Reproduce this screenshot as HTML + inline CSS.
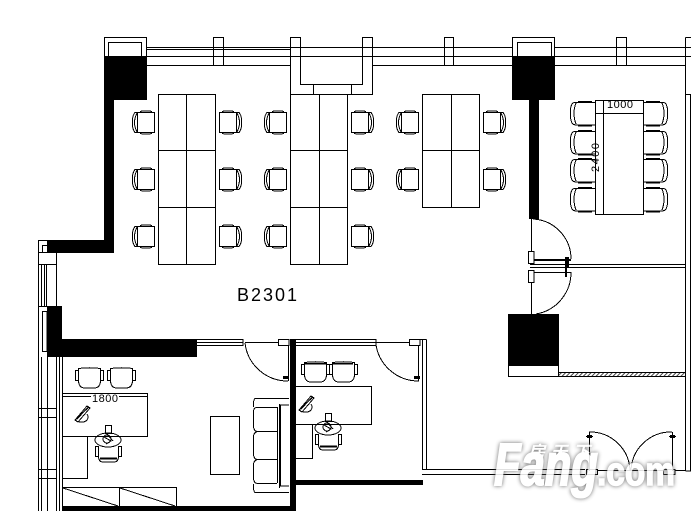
<!DOCTYPE html>
<html>
<head>
<meta charset="utf-8">
<style>
html,body{margin:0;padding:0;background:#fff;width:691px;height:511px;overflow:hidden}
svg{display:block;shape-rendering:crispEdges}
.l{fill:none;stroke:#000;stroke-width:1}
.b{fill:#000;stroke:none}
text{font-family:"Liberation Sans","Noto Sans CJK SC",sans-serif;fill:#000}
</style>
</head>
<body>
<svg width="691" height="511" viewBox="0 0 691 511" xmlns="http://www.w3.org/2000/svg">
<defs>
<g id="ch" class="l">
<rect x="5.500" y="2.500" width="17" height="20"/>
<path d="M8 1.500Q14 0 20 1.500M8 23.500Q14 25 20 23.500M5 2.500H3Q0 6 .5 12.500Q0 19 3 22.500H5M5 3Q2.500 8 2.500 12.500Q2.500 17 5 22"/>
</g>
<g id="cc" class="l">
<path d="M25 2.500H7Q3 2 2 4Q0 8 .5 13Q0 19 2 23Q3 25 7 25H25"/>
<path d="M6 3Q4 8 4 13Q4 19 6 24M8 1.500H22M8 26H22"/>
</g>
<g id="uc" class="l">
<rect x=".5" y="3.500" width="3" height="10"/>
<rect x="25.500" y="3.500" width="3" height="10"/>
<path d="M3.500 1.500Q14 0 25.500 1.500V13Q25.500 21 19 21H10Q3.500 21 3.500 13Z"/>
</g>
<g id="kb" class="l">
<path d="M1 15L13 1L16 3L4 17ZM3 13L14 3M2.500 14.500L14.500 2M5 17Q10 18 13 15Q15 12 13 9"/>
</g>
<g id="pe" class="l">
<rect x="105.500" y="425.500" width="6" height="8"/>
<ellipse cx="108" cy="440" rx="13" ry="7"/>
<circle cx="107" cy="439" r="4"/>
<path d="M106 433L113 441M104 437L111 441L106 444"/>
<rect x="95.500" y="446.500" width="3" height="10"/>
<rect x="118.500" y="446.500" width="3" height="10"/>
<path d="M98.500 447V456Q98.500 462 103 462H114Q118.500 462 118.500 456V447M100 458H117M100 459H117"/>
</g>
<pattern id="ha" width="3" height="3" patternUnits="userSpaceOnUse" patternTransform="rotate(45)">
<rect width="3" height="3" fill="#fff"/><rect width="1.200" height="3" fill="#444"/>
</pattern>
</defs>

<!-- solid walls -->
<path class="b" d="M104 56H147V100H114V253H47V240H104Z"/>
<path class="b" d="M512 56H555V100H539V219H529V100H512Z"/>
<path class="b" d="M47 306H62V339H197V357H47Z"/>
<rect class="b" x="290" y="339" width="6" height="172"/>
<rect class="b" x="62" y="506" width="234" height="5"/>
<rect class="b" x="296" y="480" width="127" height="5"/>
<rect class="b" x="508" y="314" width="51" height="51"/>

<g class="l">
<!-- top window -->
<path d="M104.500 56V37.500H146.500V56M108.500 56V42.500H141.500V56"/>
<path d="M512.500 56V37.500H554.500V56M517.500 56V42.500H551.500V56"/>
<path d="M147 47.500H512M147 49.500H290M147 56.500H512M147 65.500H290M372 65.500H512M555 47.500H691M555 56.500H691M555 65.500H685"/>
<path d="M213.500 65V37.500H223.500V65M444.500 65V37.500H453.500V65M616.500 65V37.500H626.500V65"/>
<path d="M290.500 94V37.500H300.500V84.500H362.500V37.500H372.500V94.500H290.500M313.500 85V94M351.500 85V94"/>
<!-- right wall -->
<path d="M685.500 37.500V471M685.500 37.500H691M690.500 94.500V471M685.500 94.500H691M685.500 471H691"/>

<!-- desks -->
<path d="M158.500 94.500H215.500V264.500H158.500ZM186.500 94V264M158 150.500H215M158 207.500H215"/>
<path d="M290.500 94.500H347.500V264.500H290.500ZM319.500 94V264M290 150.500H347M290 207.500H347"/>
<path d="M422.500 94.500H479.500V207.500H422.500ZM451.500 94V207M422 150.500H479"/>

<!-- conference table -->
<path d="M595.500 100.500H643.500V214.500H595.500ZM603.500 100V214M595 113.500H643"/>

<!-- left window -->
<path d="M38.500 511V240.500H47M38.500 264.500H56M42.500 252V245.500H48M38 252.500H47M41.500 264V306M44.500 264V306M46.500 264V306M56.500 253V306M38 306.500H47M42.500 311.500H47V351.500H42.500ZM41.500 357V511M47.500 357V511M56.500 357V511M59.500 357V511M62.500 357V506M38 408.500H56M38 417.500H56M38 469.500H56M38 478.500H56"/>

<!-- office 1 -->
<path d="M197 339.500H243V345.500H197M197 342.500H243M245 342.500H278M278.500 339.500H289V345.500H278.500ZM288.500 345V381"/>
<path d="M62.500 393.500H147.500V436.500H62.500ZM62 396.500H91M119 396.500H147M147.500 393V397M87.500 436V478.500H62"/>
<path d="M62 487.500H176.500V506M119.500 487V506M63 488L118 506M120 488L175 506"/>
<rect x="210.500" y="416.500" width="29" height="58"/>
<!-- sofa -->
<path d="M277.500 407V483M279.500 404V488M289 405H280.500V486H289M255 398.500H289M255 492.500H289M277 407.500H258M277 431.500H258M277 459.500H258M277 483.500H258"/>

<!-- office 2 -->
<path d="M296 339.500H376V345.500H296M296 342.500H376M376 342.500H409M409.500 339.500H420V345.500H409.500ZM418.500 345V381M422.500 339.500V470M426.500 339.500V469M418 339.500H426.500"/>
<path d="M296 386.500H371.500V424.500H296M312.500 424V458.500H296"/>
<path d="M422 469.500H585M422 474.500H585M597 470.500H663M675 470.500H685"/>

<!-- corridor partition -->
<path d="M531.500 219V251M528.500 251.500H534V263.500H528.500ZM530 264.500H685M530 267.500H685M528.500 270.500H534V282.500H528.500ZM534 272.500H571M531.500 282V314"/>
<rect x="508.500" y="365.500" width="50" height="11" fill="#fff"/>
<path d="M586.500 469.500H597.500V474.500H586.500ZM663.500 469.500H675V474.500H663.500ZM589.500 432V471M672.500 432V471"/>
<path d="M586 436.500H593M669 436.500H676"/>
</g>

<rect x="559" y="372" width="126" height="5" fill="url(#ha)"/>
<path class="l" d="M559 376.500H685M559 372.500H685"/>

<!-- door arcs -->
<g class="l">
<path d="M533 219A40 40 0 0 1 571 259"/>
<path d="M571 272A42 42 0 0 1 536 314"/>
<path d="M245 343A43 43 0 0 0 288 381"/>
<path d="M376 345A43 43 0 0 0 419 381"/>
<path d="M589 432A40 40 0 0 1 630 470"/>
<path d="M672 432A40 40 0 0 0 631 470"/>
</g>
<g class="b">
<rect x="534" y="259" width="37" height="2"/>
<rect x="565" y="257" width="4" height="11"/>
<rect x="565" y="268" width="2" height="9"/>
<rect x="283" y="376" width="6" height="3"/>
<rect x="414" y="376" width="6" height="3"/>
<rect x="587" y="435" width="5" height="3"/>
<rect x="670" y="435" width="5" height="3"/>
</g>

<!-- task chairs -->
<use href="#ch" x="132" y="110"/><use href="#ch" x="132" y="167"/><use href="#ch" x="132" y="224"/>
<use href="#ch" x="264" y="110"/><use href="#ch" x="264" y="167"/><use href="#ch" x="264" y="224"/>
<use href="#ch" x="396" y="110"/><use href="#ch" x="396" y="167"/>
<use href="#ch" transform="translate(242,110) scale(-1,1)"/><use href="#ch" transform="translate(242,167) scale(-1,1)"/><use href="#ch" transform="translate(242,224) scale(-1,1)"/>
<use href="#ch" transform="translate(374,110) scale(-1,1)"/><use href="#ch" transform="translate(374,167) scale(-1,1)"/><use href="#ch" transform="translate(374,224) scale(-1,1)"/>
<use href="#ch" transform="translate(506,110) scale(-1,1)"/><use href="#ch" transform="translate(506,167) scale(-1,1)"/>

<!-- conference chairs -->
<use href="#cc" x="570" y="100"/><use href="#cc" x="570" y="129"/><use href="#cc" x="570" y="157"/><use href="#cc" x="570" y="186"/>
<use href="#cc" transform="translate(668,100) scale(-1,1)"/><use href="#cc" transform="translate(668,129) scale(-1,1)"/><use href="#cc" transform="translate(668,157) scale(-1,1)"/><use href="#cc" transform="translate(668,186) scale(-1,1)"/>

<!-- office furniture -->
<use href="#uc" x="75" y="367"/><use href="#uc" x="107" y="367"/>
<use href="#uc" x="301" y="361"/><use href="#uc" x="329" y="361"/>
<path class="b" d="M305 363h22v1.500h-22zM333 363h20v1.500h-20z"/>
<use href="#kb" x="74" y="405"/><use href="#kb" x="298" y="395"/>
<use href="#pe"/><use href="#pe" x="220" y="-12"/>

<!-- sofa corners -->
<path class="l" d="M255 398.500Q253 400 253.500 407M258 407.500Q253.500 407 253.500 412V426Q253.500 431.500 258 431.500M258 431.500Q253.500 432 253.500 437V454Q253.500 459.500 258 459.500Q253.500 460 253.500 465V478Q253.500 483.500 258 483.500M255 492.500Q253 491 253.500 484"/>

<!-- labels -->
<text x="237" y="301" font-size="18" textLength="60" lengthAdjust="spacing">B2301</text>
<text x="92" y="402" font-size="11" textLength="26">1800</text>
<text x="607" y="108" font-size="11" textLength="26">1000</text>
<text transform="translate(599,172) rotate(-90)" font-size="11" textLength="29">2400</text>
</svg>
<svg width="691" height="511" viewBox="0 0 691 511" xmlns="http://www.w3.org/2000/svg" style="position:absolute;left:0;top:0;shape-rendering:auto">
<!-- watermark -->
<g style="filter:drop-shadow(0 0 2px #555)" opacity=".88">
<text x="494" y="485" font-size="59" font-weight="bold" font-style="italic" textLength="104" lengthAdjust="spacingAndGlyphs" style="fill:#fff;stroke:#fff;stroke-width:2">Fang</text>
<text x="597" y="485" font-size="40" font-weight="bold" textLength="78" lengthAdjust="spacingAndGlyphs" style="fill:#fff;stroke:#fff;stroke-width:1.500">.com</text>
<text x="528" y="458" font-size="17" font-weight="bold" font-style="italic" textLength="62" lengthAdjust="spacing" style="fill:#fff">房天下</text>
</g>
</svg>
</body>
</html>
